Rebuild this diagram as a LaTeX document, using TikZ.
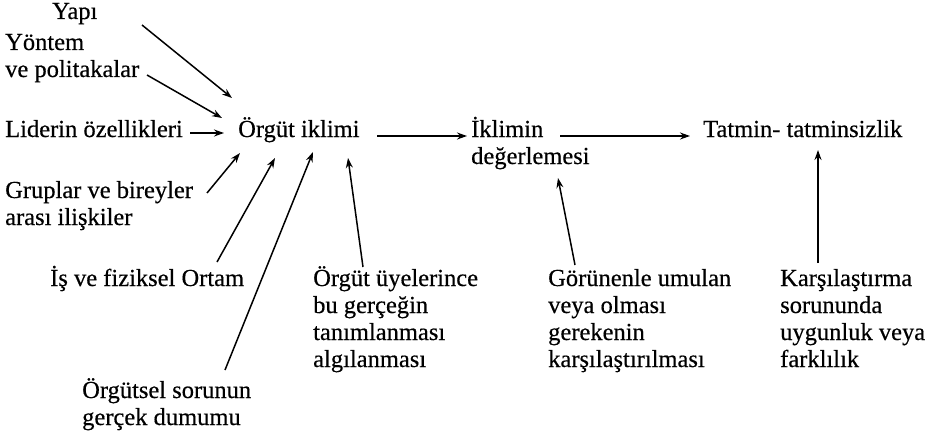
\documentclass[tikz,border=0pt]{standalone}
\usepackage{fontspec}
\setmainfont{Liberation Serif}[FakeBold=0.4]
\usetikzlibrary{arrows.meta}
\newcommand\mlines[1]{\begin{tabular}[t]{@{}l@{}}#1\end{tabular}}
\begin{document}
\begin{tikzpicture}[x=1pt,y=-1pt,
  lbl/.style={anchor=base west,inner sep=0pt,font=\fontsize{24.5}{27}\selectfont},
  arr/.style={line width=1.5pt,-{Stealth[length=10pt,width=7pt]}}]
\useasboundingbox[fill=white] (0,0) rectangle (928,441);
\node[lbl] (yapi) at (52,19) {Yapı};
\node[lbl] (yontem) at (5,50) {\mlines{Yöntem\\ve politakalar}};
\node[lbl] (lider) at (5,137) {Liderin özellikleri};
\node[lbl] (org) at (238,137) {Örgüt iklimi};
\node[lbl] (iklim) at (471,137) {\mlines{İklimin\\değerlemesi}};
\node[lbl] (tatmin) at (703,137) {Tatmin- tatminsizlik};
\node[lbl] (grup) at (5,198) {\mlines{Gruplar ve bireyler\\arası ilişkiler}};
\node[lbl] (is) at (50,286) {İş ve fiziksel Ortam};
\node[lbl] (uye) at (313,286) {\mlines{Örgüt üyelerince\\bu gerçeğin\\tanımlanması\\algılanması}};
\node[lbl] (gor) at (548,286) {\mlines{Görünenle umulan\\veya olması\\gerekenin\\karşılaştırılması}};
\node[lbl] (kars) at (780,286) {\mlines{Karşılaştırma\\sorununda\\uygunluk veya\\farklılık}};
\node[lbl] (sorun) at (82,398) {\mlines{Örgütsel sorunun\\gerçek dumumu}};
% arrows into Örgüt iklimi
\draw[arr] ([shift={(90,6)}]yapi.base west) -- ([shift={(-6,-39)}]org.base west);
\draw[arr] ([shift={(142,25)}]yontem.base west) -- ([shift={(-16,-19)}]org.base west);
\draw[arr] ([shift={(185,-4)}]lider.base west) -- ([shift={(-14,-4)}]org.base west);
\draw[arr] ([shift={(202,-5)}]grup.base west) -- ([shift={(2,16)}]org.base west);
\draw[arr] ([shift={(167,-24)}]is.base west) -- ([shift={(37,21)}]org.base west);
\draw[arr] ([shift={(143,-28)}]sorun.base west) -- ([shift={(75,15)}]org.base west);
\draw[arr] ([shift={(50,-19)}]uye.base west) -- ([shift={(110,21)}]org.base west);
% main chain
\draw[arr] ([shift={(139,-1)}]org.base west) -- ([shift={(-4,-1)}]iklim.base west);
\draw[arr] ([shift={(89,-1)}]iklim.base west) -- ([shift={(-13,-1)}]tatmin.base west);
\draw[arr] ([shift={(27,-21)}]gor.base west) -- ([shift={(87,41)}]iklim.base west);
\draw[arr] ([shift={(38,-23)}]kars.base west) -- ([shift={(115,13)}]tatmin.base west);
\end{tikzpicture}
\end{document}
